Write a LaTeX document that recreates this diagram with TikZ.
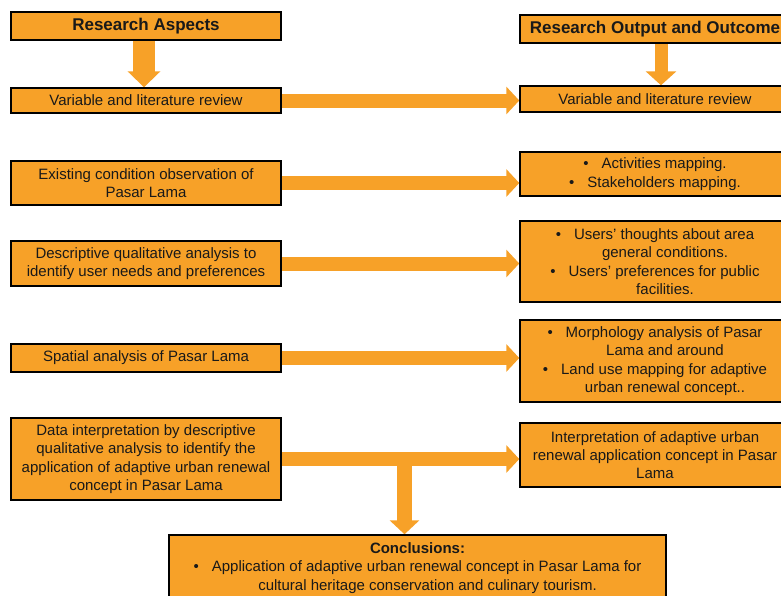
\documentclass[tikz,border=0pt]{standalone}
\usepackage{fontspec}
\setmainfont{Liberation Sans}
\usetikzlibrary{arrows.meta}
\definecolor{boxorange}{HTML}{F7A128}
\pgfdeclarelayer{bg}
\pgfsetlayers{bg,main}
\newcommand{\bul}{\textbullet\hspace{13pt}}
\newcommand{\cont}{\hspace*{20pt}}
\begin{document}
\begin{tikzpicture}[x=1pt,y=-1pt,
  box/.style={draw=black, line width=1.4pt, fill=boxorange, minimum width=270pt,
    inner sep=0pt, align=center, text=black!90, font=\fontsize{15}{18.3}\selectfont},
  titlebox/.style={box, font=\fontsize{17}{20}\selectfont\bfseries},
  harrow/.style={draw=boxorange, line width=14pt, -{Triangle[length=13pt,width=27pt]}},
  varrowA/.style={draw=boxorange, line width=22pt, -{Triangle[length=16pt,width=32pt]}},
  varrowB/.style={draw=boxorange, line width=13pt, -{Triangle[length=14pt,width=30pt]}},
  varrowC/.style={draw=boxorange, line width=15pt, -{Triangle[length=14pt,width=29pt]}}
]
\useasboundingbox (0,0) rectangle (781,595);
\clip (0,0) rectangle (781,595);

% left column
\node[titlebox, minimum height=28pt] (RA) at (146,26) {Research Aspects};
\node[box, minimum height=25pt] (L1) at (146,100.5) {Variable and literature review};
\node[box, minimum height=44pt] (L2) at (146,183) {Existing condition observation of\\Pasar Lama};
\node[box, minimum height=45pt] (L3) at (146,263.5) {Descriptive qualitative analysis to\\identify user needs and preferences};
\node[box, minimum height=28pt] (L4) at (146,358) {Spatial analysis of Pasar Lama};
\node[box, minimum height=82pt] (L5) at (146,459) {Data interpretation by descriptive\\qualitative analysis to identify the\\application of adaptive urban renewal\\concept in Pasar Lama};

% right column
\node[titlebox, minimum height=28pt] (RO) at (655,29) {Research Output and Outcome};
\node[box, minimum height=26pt] (R1) at (655,99) {Variable and literature review};
\node[box, minimum height=44pt] (R2) at (655,174) {\bul Activities mapping.\\\bul Stakeholders mapping.};
\node[box, minimum height=81pt] (R3) at (655,261.5) {\bul Users’ thoughts about area\\\cont general conditions.\\\bul Users’ preferences for public\\\cont facilities.};
\node[box, minimum height=82pt] (R4) at (655,361) {\bul Morphology analysis of Pasar\\\cont Lama and around\\\bul Land use mapping for adaptive\\\cont urban renewal concept..};
\node[box, minimum height=64pt] (R5) at (655,455) {Interpretation of adaptive urban\\renewal application concept in Pasar\\Lama};

% conclusions
\node[box, minimum width=497pt, minimum height=64pt] (C) at (417.5,567) {};
\node[align=center, inner sep=0pt, text=black!90, font=\fontsize{15}{18.4}\selectfont] (CT) at (417.5,568)
  {\textbf{Conclusions:}\\\bul Application of adaptive urban renewal concept in Pasar Lama for\\\cont cultural heritage conservation and culinary tourism.};

\coordinate (J) at (404.5,455.5);

\begin{pgfonlayer}{bg}
\draw[varrowA] ([xshift=-2pt]RA.south) -- ([xshift=-2pt]L1.north);
\draw[varrowB] ([xshift=6pt]RO.south) -- ([xshift=6pt]R1.north);
\draw[harrow] (L1.east) -- (L1.east -| R1.west);
\draw[harrow] (L2.east) -- (L2.east -| R2.west);
\draw[harrow] (L3.east) -- (L3.east -| R3.west);
\draw[harrow] (L4.east) -- (L4.east -| R4.west);
\draw[harrow] (L5.east) -- (L5.east -| R5.west);
\draw[varrowC] (J) -- (J |- C.north);
\end{pgfonlayer}
\end{tikzpicture}
\end{document}
